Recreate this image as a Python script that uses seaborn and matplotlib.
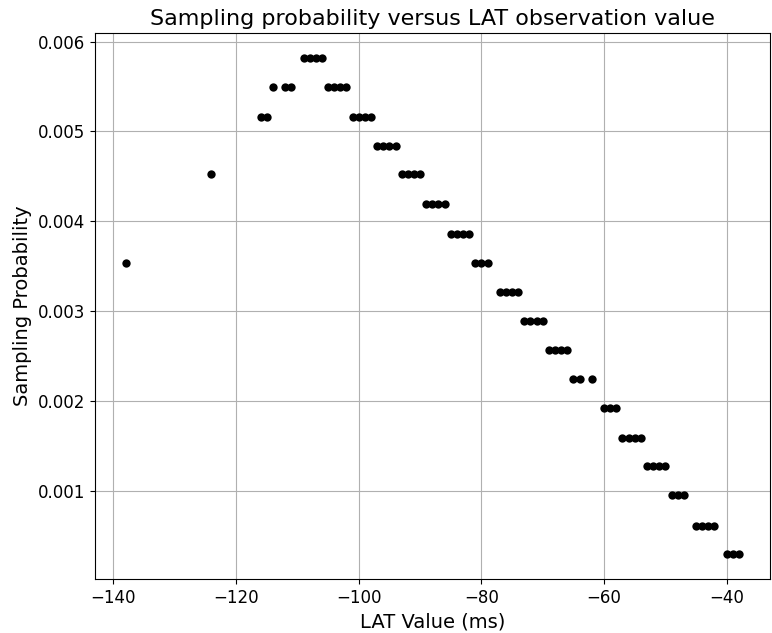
import matplotlib
matplotlib.use("Agg")
import matplotlib.pyplot as plt
import seaborn as sns
import pandas as pd

lat_values = [-138, -124, -116, -115, -114, -112, -111,
              -109, -108, -107, -106,
              -105, -104, -103, -102,
              -101, -100, -99, -98,
              -97, -96, -95, -94,
              -93, -92, -91, -90,
              -89, -88, -87, -86,
              -85, -84, -83, -82,
              -81, -80, -79,
              -77, -76, -75, -74,
              -73, -72, -71, -70,
              -69, -68, -67, -66,
              -65, -64, -62,
              -60, -59, -58,
              -57, -56, -55, -54,
              -53, -52, -51, -50,
              -49, -48, -47,
              -45, -44, -43, -42,
              -40, -39, -38]

probabilities = [0.00353, 0.00452, 0.00516, 0.00516, 0.00549, 0.00549, 0.00549,
                 0.00582, 0.00582, 0.00582, 0.00582,
                 0.00549, 0.00549, 0.00549, 0.00549,
                 0.00516, 0.00516, 0.00516, 0.00516,
                 0.00484, 0.00484, 0.00484, 0.00484,
                 0.00452, 0.00452, 0.00452, 0.00452,
                 0.00419, 0.00419, 0.00419, 0.00419,
                 0.00386, 0.00386, 0.00386, 0.00386,
                 0.00353, 0.00353, 0.00353,
                 0.00321, 0.00321, 0.00321, 0.00321,
                 0.00289, 0.00289, 0.00289, 0.00289,
                 0.00257, 0.00257, 0.00257, 0.00257,
                 0.00224, 0.00224, 0.00224,
                 0.00192, 0.00192, 0.00192,
                 0.00159, 0.00159, 0.00159, 0.00159,
                 0.00127, 0.00127, 0.00127, 0.00127,
                 0.00095, 0.00095, 0.00095,
                 0.00061, 0.00061, 0.00061, 0.00061,
                 0.00029, 0.00029, 0.00029]

df = pd.DataFrame({"LAT": lat_values, "Prob": probabilities})

fig, ax = plt.subplots(figsize=(7.72, 6.33), dpi=100)
fig.subplots_adjust(left=0.123, right=0.997, top=0.948, bottom=0.085)

sns.scatterplot(data=df, x="LAT", y="Prob", color="black", s=36,
                linewidth=0, ax=ax, zorder=3)
ax.grid(True, color="#b0b0b0", linewidth=0.8)
ax.set_axisbelow(True)
ax.set_title("Sampling probability versus LAT observation value", fontsize=16)
ax.set_xlabel("LAT Value (ms)", fontsize=14)
ax.set_ylabel("Sampling Probability", fontsize=14)
ax.tick_params(labelsize=12)
ax.set_xticks([-140, -120, -100, -80, -60, -40])
ax.set_yticks([0.001, 0.002, 0.003, 0.004, 0.005, 0.006])

fig.savefig("out.png", dpi=100)
